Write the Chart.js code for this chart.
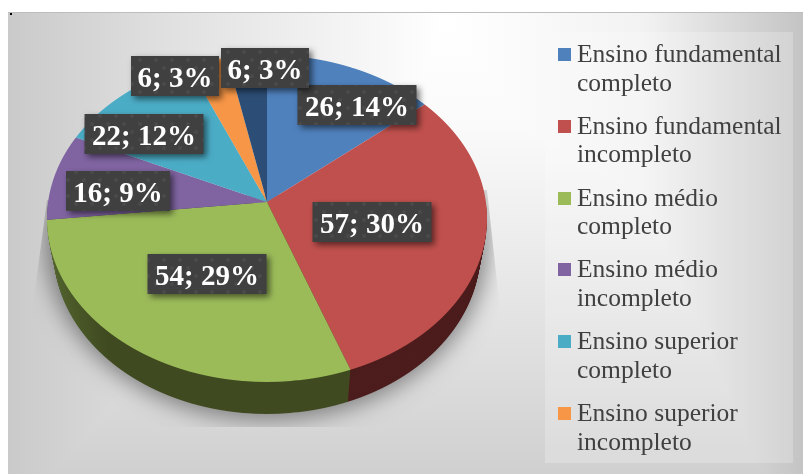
<!DOCTYPE html>
<html><head><meta charset="utf-8">
<style>html,body{margin:0;padding:0;background:#fff}canvas{display:block}</style>
<script src="https://cdn.jsdelivr.net/npm/chart.js@4"></script>
</head><body><canvas id="c" width="803" height="474"></canvas>
<script>
const categories = [
  ["Ensino fundamental","completo"],
  ["Ensino fundamental","incompleto"],
  ["Ensino médio","completo"],
  ["Ensino médio","incompleto"],
  ["Ensino superior","completo"],
  ["Ensino superior","incompleto"],
  [""]
];
const values = [26,57,54,16,22,6,6];
const colors = ["#4f81bd","#c0504d","#9bbb59","#8064a2","#4bacc6","#f79646","#2c4d75"];
const labelCenters = [[357,105],[372,222],[207,274],[118,191],[144,134],[175,76],[265,68]];

const HX=267,HY=202,S=218.9,K=-0.1009,A=161.8,DEPTH=32;

function projectedRows(ctx,arcs,dy,shrink,yMin,yMax){
  const ref=arcs[0],R=ref.outerRadius;
  for(let row=yMin;row<yMax;row++){
    const yp=row+0.5-HY-dy;
    const v=yp/(A-K*yp);
    const den=1+K*v;
    const sx=S*shrink/den/R;
    const sy=A/(den*den)/R;
    ctx.save();
    ctx.beginPath();ctx.rect(0,row,803,1);ctx.clip();
    ctx.translate(HX,HY+dy+yp);
    ctx.scale(sx,sy);
    ctx.translate(-ref.x,-ref.y-v*R);
    arcs.forEach(a=>a.draw(ctx));
    ctx.restore();
  }
}
function labelPattern(ctx){
  const p=document.createElement('canvas');p.width=16;p.height=16;
  const g=p.getContext('2d');
  g.fillStyle='#404040';g.fillRect(0,0,16,16);
  g.fillStyle='rgba(255,255,255,0.055)';
  [[4,4],[12,12]].forEach(d=>{g.beginPath();g.arc(d[0],d[1],2,0,7);g.fill();});
  return ctx.createPattern(p,'repeat');
}
const scene={
  id:'scene',
  beforeDraw(chart){
    const ctx=chart.ctx;
    ctx.save();
    ctx.fillStyle='#fff';ctx.fillRect(0,0,803,474);
    let g=ctx.createLinearGradient(8,0,803,0);
    g.addColorStop(0,'#cacaca');g.addColorStop(0.2,'#e0e0e0');g.addColorStop(0.55,'#ffffff');g.addColorStop(0.8,'#f2f2f2');g.addColorStop(1,'#c4c4c4');
    ctx.fillStyle=g;ctx.fillRect(8,12,795,462);
    ctx.globalCompositeOperation='darken';
    g=ctx.createLinearGradient(0,12,0,474);
    g.addColorStop(0,'#ffffff');g.addColorStop(0.25,'#fafafa');g.addColorStop(1,'#d0d0d0');
    ctx.fillStyle=g;ctx.fillRect(8,12,795,462);
    ctx.globalCompositeOperation='source-over';
    ctx.fillStyle='#bdbdbd';ctx.fillRect(8,12,795,1);
    ctx.fillStyle='#000';ctx.fillRect(10,13,2,2);
    ctx.fillStyle='rgba(255,255,255,0.22)';ctx.fillRect(545,32,248,431);
    // ground shadow
    ctx.beginPath();ctx.moveTo(47,200);ctx.lineTo(33,305);ctx.lineTo(33,427);ctx.lineTo(500,427);ctx.lineTo(500,310);ctx.lineTo(487,190);ctx.closePath();ctx.clip();
    ctx.shadowColor='rgba(0,0,0,0.42)';ctx.shadowBlur=22;ctx.shadowOffsetX=1000;
    ctx.fillStyle='#000';ctx.beginPath();ctx.ellipse(267-1000,240,222,180,0,0,7);ctx.fill();
    ctx.restore();
  },
  beforeDatasetDraw(chart,args){
    const ctx=chart.ctx,arcs=chart.getDatasetMeta(args.index).data;
    const g=ctx.createLinearGradient(54,0,240,0);
    g.addColorStop(0,'#7f9e4b');g.addColorStop(0.45,'#5c7035');g.addColorStop(1,'#3f4a20');
    const wall=[ '#2a4466','#4d1d1d',g,'#443557','#28606e','#8a5225','#1a2e46' ];
    const saved=arcs.map(a=>a.options);
    arcs.forEach((a,i)=>{a.options=Object.assign({},saved[i],{backgroundColor:wall[i],borderWidth:0});});
    const lower=arcs.filter((a,i)=>i>=1&&i<=3);
    for(let d=DEPTH;d>=1;d--){
      projectedRows(ctx,lower,d,1-0.03*d/DEPTH,HY+d,383+d);
    }
    arcs.forEach((a,i)=>{a.options=saved[i];});
    projectedRows(ctx,arcs,0,1,50,386);
    return false;
  },
  afterDatasetsDraw(chart){
    const ctx=chart.ctx,total=values.reduce((a,b)=>a+b,0);
    const pat=labelPattern(ctx);
    ctx.save();
    ctx.textAlign='center';ctx.textBaseline='alphabetic';
    ctx.font='bold 29px "Liberation Serif"';
    values.forEach((v,i)=>{
      const t=v+'; '+Math.round(v/total*100)+'%';
      const h=40,c=labelCenters[i];
      const bw=t.length>6?119:(t.length>5?104:88);
      ctx.save();
      ctx.shadowColor='rgba(0,0,0,0.55)';ctx.shadowBlur=6;ctx.shadowOffsetX=3;ctx.shadowOffsetY=3;
      ctx.fillStyle=pat;ctx.fillRect(c[0]-bw/2,c[1]-h/2,bw,h);
      ctx.restore();
      ctx.fillStyle='#fff';
      ctx.fillText(t,c[0],c[1]+10.5);
    });
    ctx.font='25.5px "Liberation Serif"';
    ctx.textAlign='left';
    categories.slice(0,6).forEach((lines,i)=>{
      const y=48+i*71.8;
      ctx.fillStyle=colors[i];ctx.fillRect(558,Math.round(y),13,13);
      ctx.fillStyle='#404040';
      lines.forEach((l,j)=>ctx.fillText(l,577,y+14+j*28.5));
    });
    ctx.restore();
  }
};
new Chart(document.getElementById('c'),{
  type:'pie',
  data:{labels:categories.map(c=>c.join(' ')),datasets:[{data:values,backgroundColor:colors,borderWidth:0}]},
  options:{responsive:false,animation:false,plugins:{legend:{display:false},tooltip:{enabled:false}},layout:{padding:0}},
  plugins:[scene]
});
</script></body></html>
